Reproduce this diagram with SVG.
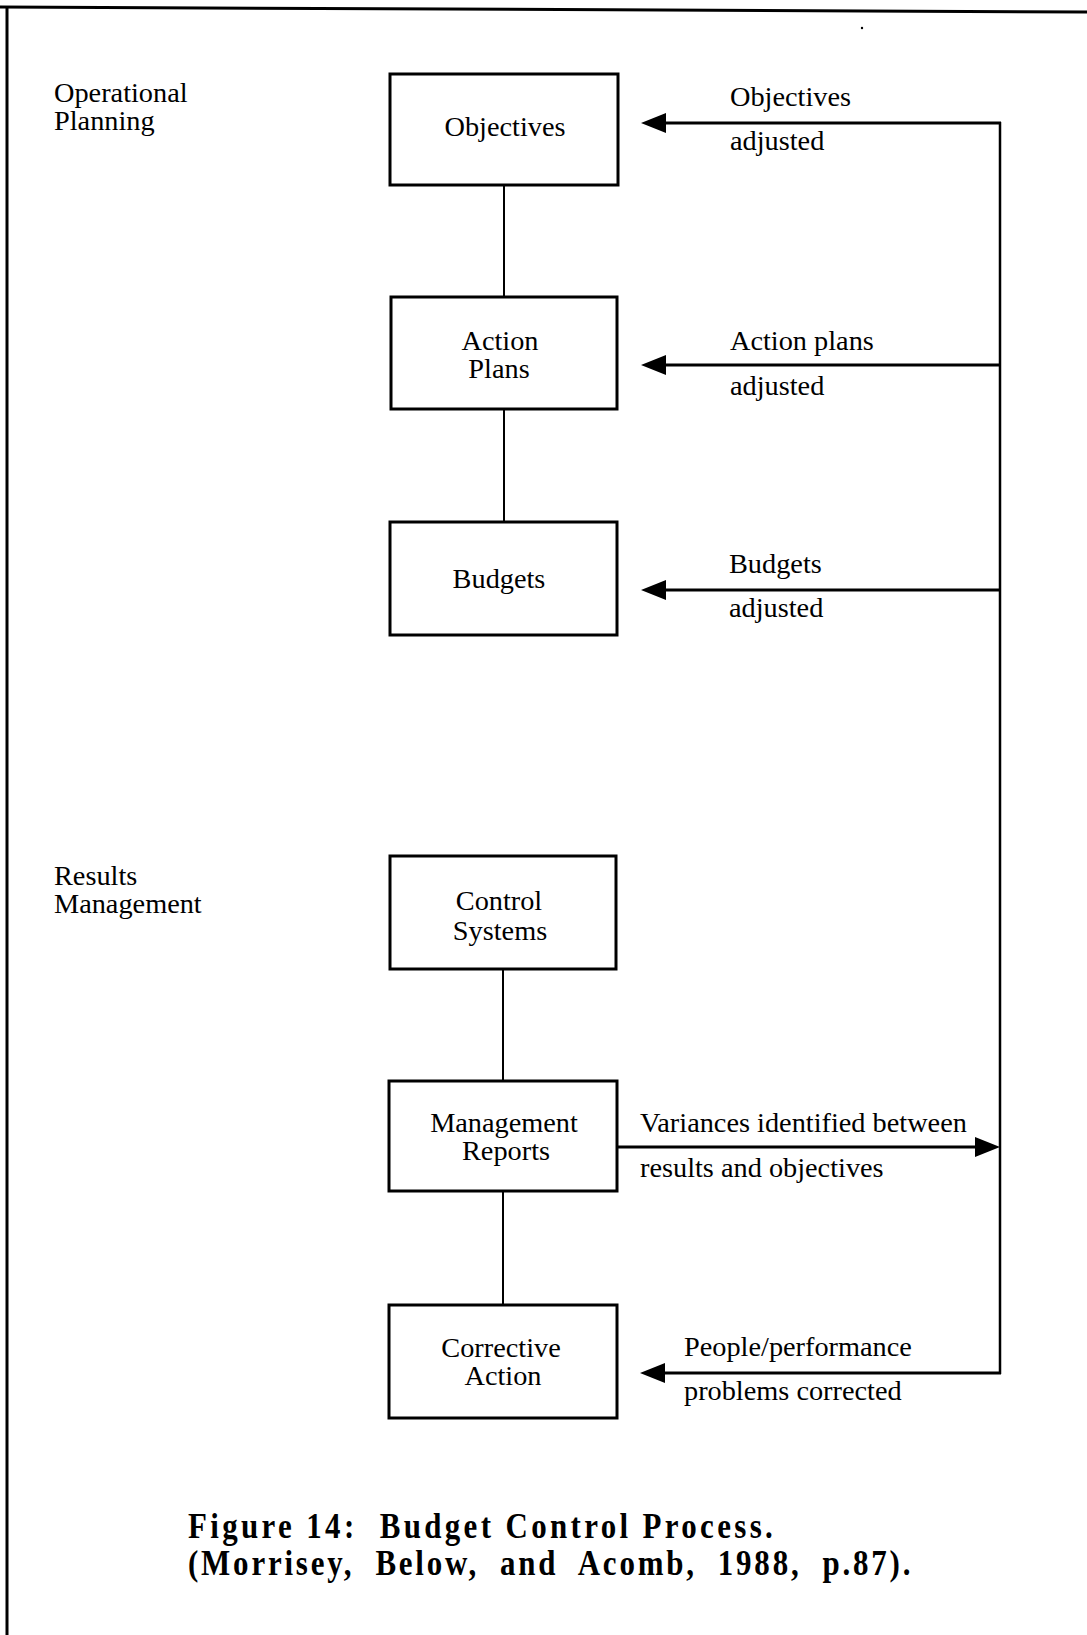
<svg xmlns="http://www.w3.org/2000/svg" width="1087" height="1635" viewBox="0 0 1087 1635">
  <style>
    .box { fill: #ffffff; stroke: #000000; stroke-width: 3; }
    .lbl { font-family: "Liberation Serif", "Times New Roman", serif; font-size: 28.3px; fill: #000000; }
    .mid { text-anchor: middle; }
    .link { stroke: #000000; stroke-width: 2; fill: none; }
    .flow { stroke: #000000; stroke-width: 3; fill: none; }
    .cap { font-family: "Liberation Serif", "Times New Roman", serif; font-size: 36px; font-weight: bold; fill: #000000; }
  </style>
  <defs>
    <marker id="head" markerUnits="userSpaceOnUse" markerWidth="26" markerHeight="22" viewBox="0 -11 26 22" refX="0" refY="0" orient="auto">
      <path d="M0,-10 L25,0 L0,10 Z" fill="#000000"/>
    </marker>
  </defs>

  <rect x="0" y="0" width="1087" height="1635" fill="#ffffff"/>

  <!-- page frame: top rule and left rule -->
  <g id="frame">
    <line x1="0" y1="7" x2="1087" y2="12" stroke="#000000" stroke-width="3"/>
    <line x1="7" y1="7" x2="7" y2="1635" stroke="#000000" stroke-width="3"/>
    <circle cx="862" cy="28" r="1.2" fill="#000000"/>
  </g>

  <!-- section headings -->
  <g id="section-operational-planning">
    <text class="lbl" x="54" y="102">Operational</text>
    <text class="lbl" x="54" y="130">Planning</text>
  </g>
  <g id="section-results-management">
    <text class="lbl" x="54" y="885">Results</text>
    <text class="lbl" x="54" y="913">Management</text>
  </g>

  <!-- connectors -->
  <g id="connectors">
    <line class="link" x1="504" y1="185" x2="504" y2="297"/>
    <line class="link" x1="504" y1="409" x2="504" y2="522"/>
    <line class="link" x1="503" y1="969" x2="503" y2="1081"/>
    <line class="link" x1="503" y1="1191" x2="503" y2="1305"/>

    <!-- feedback loop on the right -->
    <line x1="1000" y1="122" x2="1000" y2="1374" stroke="#000000" stroke-width="2.5"/>
    <line class="flow" x1="1001" y1="123" x2="666" y2="123" marker-end="url(#head)"/>
    <line class="flow" x1="1000" y1="365" x2="666" y2="365" marker-end="url(#head)"/>
    <line class="flow" x1="1000" y1="590" x2="666" y2="590" marker-end="url(#head)"/>
    <line class="flow" x1="617" y1="1147" x2="975" y2="1147" marker-end="url(#head)"/>
    <line class="flow" x1="1001" y1="1373" x2="665" y2="1373" marker-end="url(#head)"/>
  </g>

  <!-- connector labels -->
  <g id="connector-labels">
    <text class="lbl" x="730" y="106">Objectives</text>
    <text class="lbl" x="730" y="150">adjusted</text>
    <text class="lbl" x="730" y="350">Action plans</text>
    <text class="lbl" x="730" y="395">adjusted</text>
    <text class="lbl" x="729" y="573">Budgets</text>
    <text class="lbl" x="729" y="617">adjusted</text>
    <text class="lbl" x="640" y="1132">Variances identified between</text>
    <text class="lbl" x="640" y="1177">results and objectives</text>
    <text class="lbl" x="684" y="1356">People/performance</text>
    <text class="lbl" x="684" y="1400">problems corrected</text>
  </g>

  <!-- nodes -->
  <g id="node-objectives">
    <rect class="box" x="390" y="74" width="228" height="111"/>
    <text class="lbl mid" x="505" y="136">Objectives</text>
  </g>
  <g id="node-action-plans">
    <rect class="box" x="391" y="297" width="226" height="112"/>
    <text class="lbl mid" x="500" y="350">Action</text>
    <text class="lbl mid" x="499" y="378">Plans</text>
  </g>
  <g id="node-budgets">
    <rect class="box" x="390" y="522" width="227" height="113"/>
    <text class="lbl mid" x="499" y="588">Budgets</text>
  </g>
  <g id="node-control-systems">
    <rect class="box" x="390" y="856" width="226" height="113"/>
    <text class="lbl mid" x="499" y="910">Control</text>
    <text class="lbl mid" x="500" y="940">Systems</text>
  </g>
  <g id="node-management-reports">
    <rect class="box" x="389" y="1081" width="228" height="110"/>
    <text class="lbl mid" x="504" y="1132">Management</text>
    <text class="lbl mid" x="506" y="1160">Reports</text>
  </g>
  <g id="node-corrective-action">
    <rect class="box" x="389" y="1305" width="228" height="113"/>
    <text class="lbl mid" x="501" y="1357">Corrective</text>
    <text class="lbl mid" x="503" y="1385">Action</text>
  </g>

  <!-- caption, set in a narrowed bold face -->
  <g id="caption" transform="translate(188 0) scale(0.86 1)">
    <text class="cap" x="0" y="1538" textLength="680" lengthAdjust="spacing" xml:space="preserve">Figure 14:  Budget Control Process.</text>
    <text class="cap" x="0" y="1575" textLength="840" lengthAdjust="spacing" xml:space="preserve">(Morrisey,  Below,  and  Acomb,  1988,  p.87).</text>
  </g>
</svg>
